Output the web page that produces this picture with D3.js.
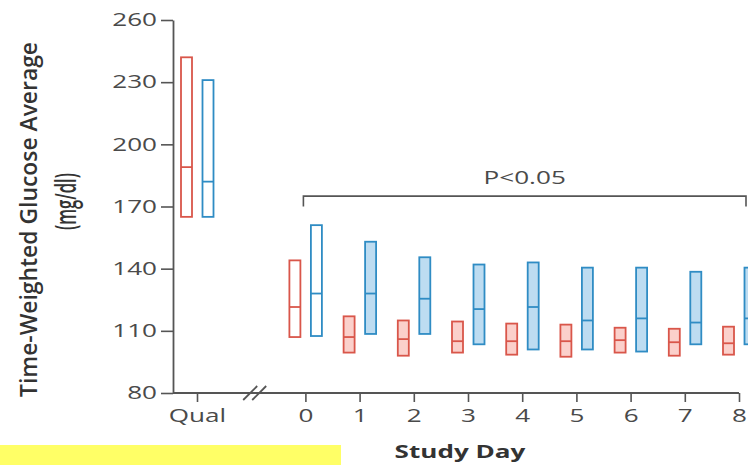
<!DOCTYPE html>
<html>
<head>
<meta charset="utf-8">
<script src="https://cdn.jsdelivr.net/npm/d3@7"></script>
<style>
  body { margin: 0; background: #fff; }
  svg text { font-family: "Open Sans", "DejaVu Sans", sans-serif; }
</style>
</head>
<body>
<div id="container"></div>
<script>
/* DATA */
const categories = ["Qual", "0", "1", "2", "3", "4", "5", "6", "7", "8"]

// red group: low / median / high
const redLow  = [165, 107,   99.5, 98,    99.5,  98.5,  97.5,  99.5,  98,    98.5]
const redMed  = [189, 121.5, 107,  106,   105,   105,   105,   105.5, 104.5, 104]
const redHigh = [242, 144,   117,  115,   114.5, 113.5, 113,   111.5, 111,   112]

// blue group: low / median / high
const blueLow  = [165, 107.5, 108.5, 108.5, 103.5, 101,   101,   100,   103.5, 103.5]
const blueMed  = [182, 128,   128,   125.5, 120.5, 121.5, 115,   116,   114,   116]
const blueHigh = [231, 161,   153,   145.5, 142,   143,   140.5, 140.5, 138.5, 140.5]

const yTicks = [80, 110, 140, 170, 200, 230, 260]
const pLabel = "P<0.05"

/* CONSTANTS AND GLOBALS */
const width = 748, height = 465
const margin = { top: 20, bottom: 72, left: 173, right: 9 }
const qualGap = 2        // Qual sits two day-slots left of day 0
const boxW = 11
const textStretch = 1.45 // the figure's lettering is horizontally wide

const colors = {
  red: "#d9564a", redFill: "#fbd0cb",
  blue: "#2f8cc4", blueFill: "#bddcf1",
  axis: "#555", text: "#4a4a4a"
}

const slot = c => c === "Qual" ? -qualGap : +c

const rows = categories.map((c, i) => ({
  cat: c,
  red: { lo: redLow[i], med: redMed[i], hi: redHigh[i] },
  blue: { lo: blueLow[i], med: blueMed[i], hi: blueHigh[i] }
}))

// + SCALES
const xScale = d3.scaleLinear()
  .domain([-qualGap, 8])
  .range([197, width - margin.right])

const yScale = d3.scaleLinear()
  .domain([80, 260])
  .range([height - margin.bottom, margin.top])

// CREATE SVG ELEMENT
const svg = d3.select("#container")
  .append("svg")
  .attr("width", width)
  .attr("height", height)

// highlight strip at the bottom left
svg.append("rect")
  .attr("x", 0).attr("y", 445)
  .attr("width", 341).attr("height", 20)
  .attr("fill", "#ffff66")

// Y AXIS
const yAxis = d3.axisLeft(yScale)
  .tickValues(yTicks)
  .tickSize(12)
  .tickSizeOuter(0)

const yAxisGroup = svg.append("g")
  .attr("transform", `translate(${margin.left}, 0)`)
  .call(yAxis)

yAxisGroup.select(".domain").attr("stroke", colors.axis).attr("stroke-width", 1.8)
yAxisGroup.selectAll(".tick line").attr("stroke", colors.axis).attr("stroke-width", 1.6)
yAxisGroup.selectAll(".tick text")
  .attr("x", -16 / textStretch)
  .attr("transform", `scale(${textStretch},1)`)
  .attr("font-size", 18)
  .attr("fill", colors.text)
  .attr("font-family", null)

// X AXIS (line drawn by hand so it can start at the y axis and carry the break)
const baseY = yScale(80)
svg.append("line")
  .attr("x1", margin.left).attr("x2", xScale(8))
  .attr("y1", baseY).attr("y2", baseY)
  .attr("stroke", colors.axis).attr("stroke-width", 1.8)

const xAxis = d3.axisBottom(xScale)
  .tickValues(categories.map(slot))
  .tickFormat(d => categories[categories.map(slot).indexOf(d)])
  .tickSize(9)
  .tickPadding(7)

const xAxisGroup = svg.append("g")
  .attr("transform", `translate(0, ${baseY})`)
  .call(xAxis)

xAxisGroup.select(".domain").remove()
xAxisGroup.selectAll(".tick line").attr("stroke", colors.axis).attr("stroke-width", 1.6)
xAxisGroup.selectAll(".tick text")
  .attr("transform", `scale(${textStretch},1)`)
  .attr("font-size", 18)
  .attr("fill", colors.text)
  .attr("font-family", null)

// axis break marks
const breakX = xScale(-1) + 4
;[-5, 4].forEach(off => {
  svg.append("line")
    .attr("x1", breakX + off - 7).attr("y1", baseY + 7)
    .attr("x2", breakX + off + 7).attr("y2", baseY - 7)
    .attr("stroke", colors.axis).attr("stroke-width", 1.8)
})

xAxisGroup.append("text")
  .attr("transform", `translate(460, 65) scale(${textStretch},1)`)
  .attr("text-anchor", "middle")
  .attr("font-size", 18)
  .attr("font-weight", 700)
  .attr("fill", "#333")
  .text("Study Day")

// Y LABEL (rotated, so the wide lettering shows up as taller glyphs)
const yLab = svg.append("g")
yLab.append("text")
  .attr("transform", `translate(37, 219.5) rotate(-90) scale(1,${textStretch})`)
  .attr("text-anchor", "middle")
  .attr("font-size", 16)
  .attr("font-weight", 600)
  .attr("fill", "#333")
  .attr("textLength", 355)
  .attr("lengthAdjust", "spacingAndGlyphs")
  .text("Time-Weighted Glucose Average")
yLab.append("text")
  .attr("transform", `translate(76, 201.5) rotate(-90) scale(1,${textStretch})`)
  .attr("text-anchor", "middle")
  .attr("font-size", 20)
  .attr("font-weight", 600)
  .attr("fill", "#333")
  .attr("textLength", 57)
  .attr("lengthAdjust", "spacingAndGlyphs")
  .text("(mg/dl)")

// BOXES
const groups = [
  { key: "red", dx: -10.5, stroke: colors.red, fill: colors.redFill },
  { key: "blue", dx: 11, stroke: colors.blue, fill: colors.blueFill }
]

groups.forEach(g => {
  const gg = svg.append("g").attr("class", g.key)

  gg.selectAll("rect")
    .data(rows)
    .join("rect")
    .attr("x", d => xScale(slot(d.cat)) + g.dx - boxW / 2)
    .attr("y", d => yScale(d[g.key].hi))
    .attr("width", boxW)
    .attr("height", d => yScale(d[g.key].lo) - yScale(d[g.key].hi))
    .attr("fill", d => slot(d.cat) >= 1 ? g.fill : "#fff")
    .attr("stroke", g.stroke)
    .attr("stroke-width", 1.8)

  gg.selectAll("line")
    .data(rows)
    .join("line")
    .attr("x1", d => xScale(slot(d.cat)) + g.dx - boxW / 2)
    .attr("x2", d => xScale(slot(d.cat)) + g.dx + boxW / 2)
    .attr("y1", d => yScale(d[g.key].med))
    .attr("y2", d => yScale(d[g.key].med))
    .attr("stroke", g.stroke)
    .attr("stroke-width", 1.8)
})

// SIGNIFICANCE BRACKET
const bx0 = xScale(0) - 2, bx1 = xScale(8) + 7
const bTop = yScale(175), bFoot = yScale(170)
svg.append("path")
  .attr("d", `M${bx0},${bFoot}V${bTop}H${bx1}V${bFoot}`)
  .attr("fill", "none")
  .attr("stroke", colors.axis)
  .attr("stroke-width", 1.6)

svg.append("text")
  .attr("transform", `translate(${(bx0 + bx1) / 2}, ${yScale(181)}) scale(${textStretch},1)`)
  .attr("text-anchor", "middle")
  .attr("font-size", 18)
  .attr("fill", colors.text)
  .text(pLabel)
</script>
</body>
</html>
